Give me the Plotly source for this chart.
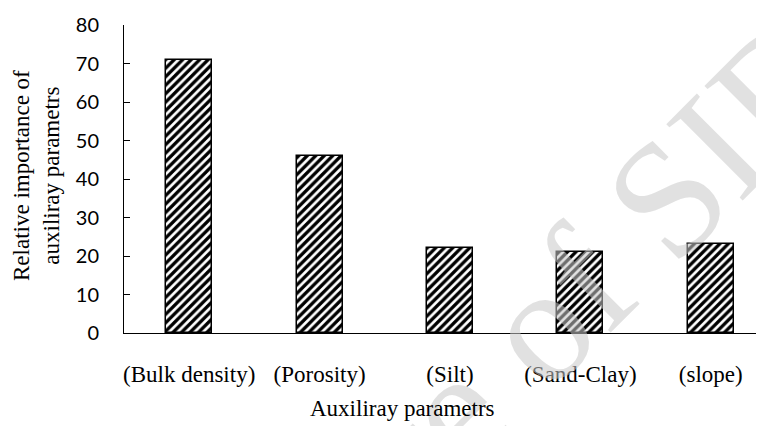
import plotly.graph_objects as go

categories = ["(Bulk density)", "(Porosity)", "(Silt)", "(Sand-Clay)", "(slope)"]
importance = [71, 46, 22, 21, 23]
y_ticks = [0, 10, 20, 30, 40, 50, 60, 70, 80]

fig = go.Figure()
fig.add_trace(go.Bar(
    x=categories,
    y=importance,
    width=0.353,
    marker=dict(
        color="white",
        line=dict(color="black", width=1.5),
        pattern=dict(shape="/", fgcolor="black", bgcolor="white", size=6, solidity=0.55, fgopacity=1),
    ),
    showlegend=False,
))

# page has an 8px body margin; work in page coordinates and convert
OFF = 8
W, H = 764, 426
plot_left, plot_right, plot_top, plot_bottom = 124, 764, 25, 333   # page pixels
L = plot_left - OFF
R = W - (plot_right - OFF)
T = plot_top - OFF
B = H - (plot_bottom - OFF)
pw, ph = plot_right - plot_left, plot_bottom - plot_top

def px(xp):
    return (xp - plot_left) / pw

def py(yp):
    return (plot_bottom - yp) / ph

fig.update_layout(
    width=W, height=H,
    margin=dict(l=L, r=R, t=T, b=B, autoexpand=False),
    plot_bgcolor="white",
    paper_bgcolor="white",
    bargap=0,
    xaxis=dict(
        type="category",
        range=[-0.5, 4.408],
        showline=True, linecolor="black", linewidth=1,
        ticks="", showgrid=False, zeroline=False, automargin=False,
        tickfont=dict(family="Liberation Serif", size=23, color="black"),
        ticklabelstandoff=20,
    ),
    yaxis=dict(
        range=[0, 80],
        tickvals=y_ticks,
        showline=True, linecolor="black", linewidth=1,
        ticks="inside", ticklen=6, tickcolor="black",
        showgrid=False, zeroline=False, automargin=False,
        tickfont=dict(family="Lato", size=20, color="black"),
        ticklabelstandoff=20,
    ),
    annotations=[
        dict(text="Archive of SID", x=px(462), y=py(402), xref="paper", yref="paper",
             xanchor="center", yanchor="middle", textangle=-45, showarrow=False,
             font=dict(family="Liberation Serif", size=165, color="rgba(200,200,200,0.55)")),
        dict(text="Auxiliray parametrs", x=px(402), y=py(408), xref="paper", yref="paper",
             xanchor="center", yanchor="middle", showarrow=False,
             font=dict(family="Liberation Serif", size=23, color="black")),
        dict(text="Relative importance of<br>auxiliray parametrs", x=px(36), y=py(176),
             xref="paper", yref="paper", xanchor="center", yanchor="middle",
             textangle=-90, showarrow=False, align="center",
             font=dict(family="Liberation Serif", size=23, color="black")),
    ],
)

fig.write_html("out.html")
